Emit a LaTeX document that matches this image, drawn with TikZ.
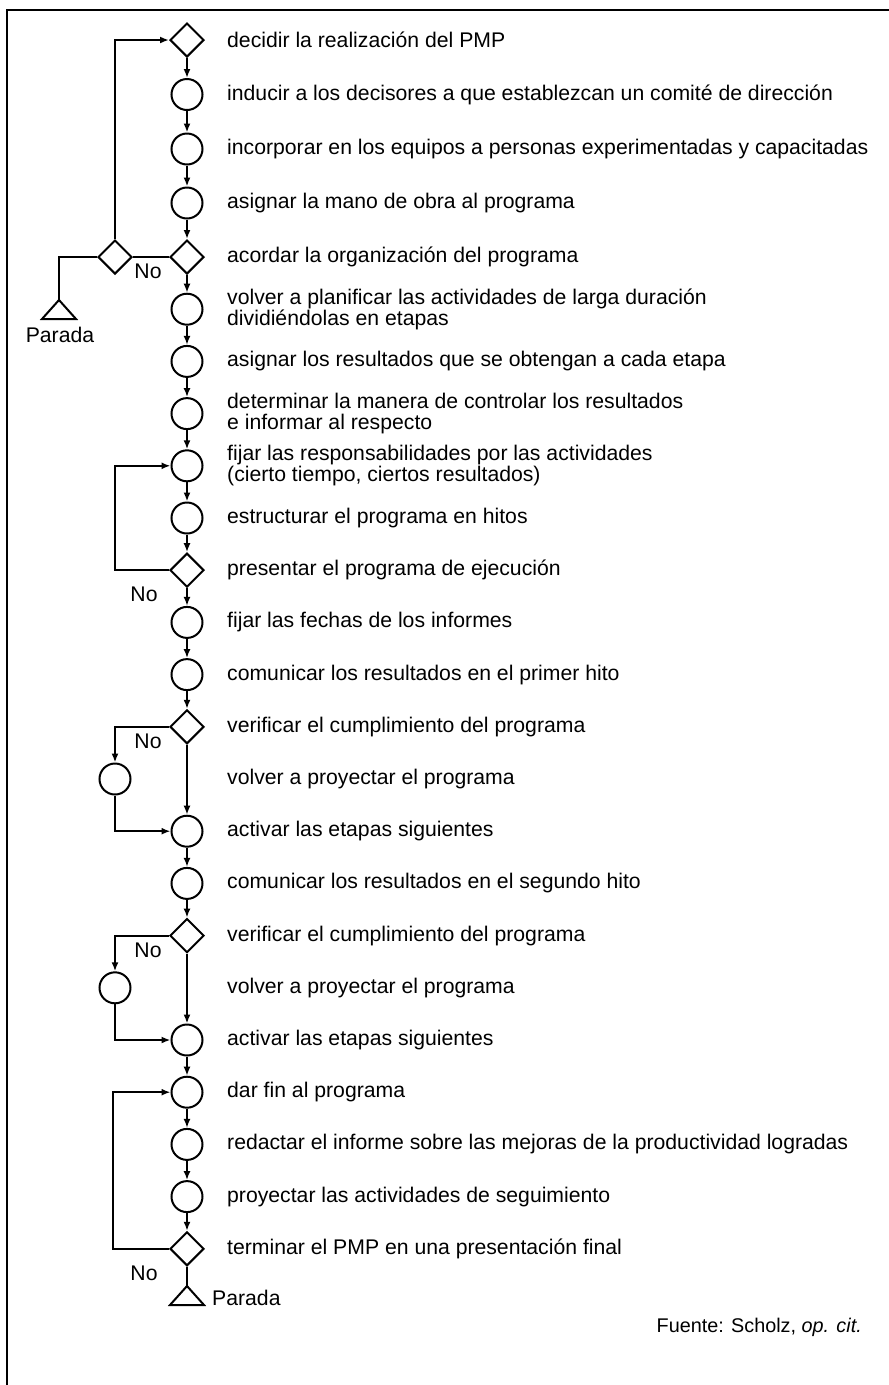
\documentclass[tikz,border=0pt]{standalone}
\usepackage{fontspec}
\setmainfont{Liberation Sans}
\usetikzlibrary{shapes.geometric,arrows.meta}
\begin{document}
\begin{tikzpicture}[x=1pt,y=-1pt,
  every node/.style={font=\fontsize{21.2}{21}\selectfont},
  ln/.style={line width=2pt},
  flow/.style={line width=2pt,-{Latex[length=9pt,width=7pt]}},
  act/.style={circle,draw,line width=2pt,minimum size=31pt,inner sep=0pt},
  dec/.style={diamond,draw,line width=2pt,minimum width=34pt,minimum height=34pt,inner sep=0pt},
  lbl/.style={anchor=west,align=left,inner sep=0pt},
  nolbl/.style={inner sep=0pt},
  stopmark/.style={line width=2pt,line join=miter},
]
\useasboundingbox (0,0) rectangle (889,1385);

% frame (top and left edges)
\draw[line width=2pt] (7,1385) -- (7,10) -- (889,10);

% main column
\node[dec] (r0)  at (187,40)     {};
\node[act] (r1)  at (187,94.5)   {};
\node[act] (r2)  at (187,149)    {};
\node[act] (r3)  at (187,203)    {};
\node[dec] (r4)  at (187,257)    {};
\node[act] (r5)  at (187,309.2)  {};
\node[act] (r6)  at (187,361.4)  {};
\node[act] (r7)  at (187,413.6)  {};
\node[act] (r8)  at (187,465.8)  {};
\node[act] (r9)  at (187,518)    {};
\node[dec] (r10) at (187,570.2)  {};
\node[act] (r11) at (187,622.4)  {};
\node[act] (r12) at (187,674.6)  {};
\node[dec] (r13) at (187,726.8)  {};
\node[act] (s14) at (115,779)    {};
\node[act] (r15) at (187,831.2)  {};
\node[act] (r16) at (187,883.4)  {};
\node[dec] (r17) at (187,935.6)  {};
\node[act] (s18) at (115,987.8)  {};
\node[act] (r19) at (187,1040)   {};
\node[act] (r20) at (187,1092.2) {};
\node[act] (r21) at (187,1144.4) {};
\node[act] (r22) at (187,1196.6) {};
\node[dec] (r23) at (187,1248.8) {};

% side decision of the first loop
\node[dec] (d4) at (115,257) {};

% labels
\node[lbl] (t0)  at (227,40)     {decidir la realización del PMP};
\node[lbl] (t1)  at (227,94.5)   {inducir a los decisores a que establezcan un comité de dirección};
\node[lbl] (t2)  at (227,149)    {incorporar en los equipos a personas experimentadas y capacitadas};
\node[lbl] (t3)  at (227,203)    {asignar la mano de obra al programa};
\node[lbl] (t4)  at (227,257)    {acordar la organización del programa};
\node[lbl] (t5)  at (227,309.2)  {volver a planificar las actividades de larga duración\\dividiéndolas en etapas};
\node[lbl] (t6)  at (227,361.4)  {asignar los resultados que se obtengan a cada etapa};
\node[lbl] (t7)  at (227,413.6)  {determinar la manera de controlar los resultados\\e informar al respecto};
\node[lbl] (t8)  at (227,465.8)  {fijar las responsabilidades por las actividades\\(cierto tiempo, ciertos resultados)};
\node[lbl] (t9)  at (227,518)    {estructurar el programa en hitos};
\node[lbl] (t10) at (227,570.2)  {presentar el programa de ejecución};
\node[lbl] (t11) at (227,622.4)  {fijar las fechas de los informes};
\node[lbl] (t12) at (227,674.6)  {comunicar los resultados en el primer hito};
\node[lbl] (t13) at (227,726.8)  {verificar el cumplimiento del programa};
\node[lbl] (t14) at (227,779)    {volver a proyectar el programa};
\node[lbl] (t15) at (227,831.2)  {activar las etapas siguientes};
\node[lbl] (t16) at (227,883.4)  {comunicar los resultados en el segundo hito};
\node[lbl] (t17) at (227,935.6)  {verificar el cumplimiento del programa};
\node[lbl] (t18) at (227,987.8)  {volver a proyectar el programa};
\node[lbl] (t19) at (227,1040)   {activar las etapas siguientes};
\node[lbl] (t20) at (227,1092.2) {dar fin al programa};
\node[lbl] (t21) at (227,1144.4) {redactar el informe sobre las mejoras de la productividad logradas};
\node[lbl] (t22) at (227,1196.6) {proyectar las actividades de seguimiento};
\node[lbl] (t23) at (227,1248.8) {terminar el PMP en una presentación final};

% "No" labels
\node[nolbl] (no1) at (148,271)    {No};
\node[nolbl] (no2) at (144,594)    {No};
\node[nolbl] (no3) at (148,741)    {No};
\node[nolbl] (no4) at (148,950)    {No};
\node[nolbl] (no5) at (144,1273)   {No};

% stop marks
\coordinate (p1) at (59,300);
\coordinate (p2) at (187,1286);
\draw[stopmark] (p1) -- ++(17,19) -- ++(-34,0) -- cycle;
\draw[stopmark] (p2) -- ++(17,19) -- ++(-34,0) -- cycle;
\node[nolbl] (pt1) at (60,335) {Parada};
\node[nolbl,anchor=west] (pt2) at (212,1298) {Parada};

% source note
\node[nolbl,anchor=east,font=\fontsize{19.8}{19.8}\selectfont] (src) at (862,1327) {Fuente: Scholz, \textit{op. cit.}};

% main sequence
\draw[flow] (r0) -- (r1);
\draw[flow] (r1) -- (r2);
\draw[flow] (r2) -- (r3);
\draw[flow] (r3) -- (r4);
\draw[flow] (r4) -- (r5);
\draw[flow] (r5) -- (r6);
\draw[flow] (r6) -- (r7);
\draw[flow] (r7) -- (r8);
\draw[flow] (r8) -- (r9);
\draw[flow] (r9) -- (r10);
\draw[flow] (r10) -- (r11);
\draw[flow] (r11) -- (r12);
\draw[flow] (r12) -- (r13);
\draw[flow] (r13) -- (r15);
\draw[flow] (r15) -- (r16);
\draw[flow] (r16) -- (r17);
\draw[flow] (r17) -- (r19);
\draw[flow] (r19) -- (r20);
\draw[flow] (r20) -- (r21);
\draw[flow] (r21) -- (r22);
\draw[flow] (r22) -- (r23);
\draw[ln] (r23.south) -- (p2);

% first loop: organisation agreed or stop
\draw[ln] (r4.west) -- (d4.east);
\draw[flow] (d4.north) |- (r0.west);
\draw[ln] (d4.west) -| (p1);

% second loop: execution programme
\coordinate (c10) at (115,570.2);
\draw[flow] (r10.west) -- (c10) |- (r8.west);

% re-planning branches
\draw[flow] (r13.west) -| (s14.north);
\draw[flow] (s14.south) |- (r15.west);
\draw[flow] (r17.west) -| (s18.north);
\draw[flow] (s18.south) |- (r19.west);

% final loop
\coordinate (c23) at (113,1248.8);
\draw[flow] (r23.west) -- (c23) |- (r20.west);
\end{tikzpicture}
\end{document}
